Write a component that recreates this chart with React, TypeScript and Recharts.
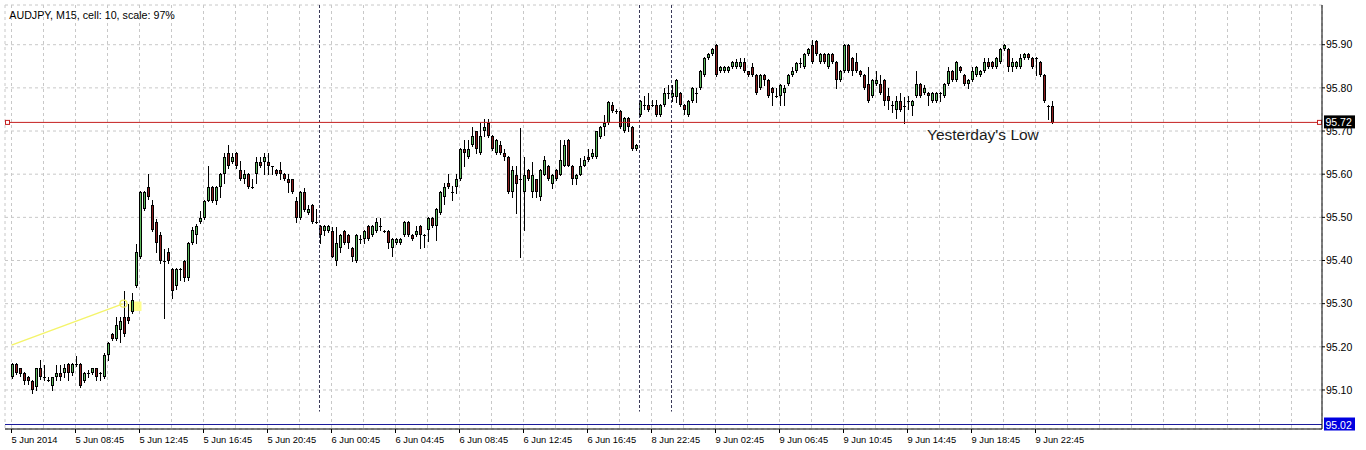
import React from 'react';
import {
  ComposedChart,
  Bar,
  XAxis,
  YAxis,
  CartesianGrid,
  ReferenceLine,
  ReferenceDot,
  ReferenceArea,
} from 'recharts';

const FONT = '"Liberation Sans", Arial, sans-serif';

// AUDJPY M15 candles, one per 15 minutes
const opens = [
  95.130, 95.160, 95.150, 95.139, 95.130, 95.120, 95.108, 95.150, 95.130, 95.124,
  95.110, 95.130, 95.139, 95.139, 95.160, 95.139, 95.160, 95.160, 95.120, 95.139,
  95.139, 95.150, 95.140, 95.130, 95.181, 95.229, 95.219, 95.239, 95.269, 95.269,
  95.280, 95.340, 95.409, 95.519, 95.570, 95.529, 95.489, 95.459, 95.400, 95.419,
  95.380, 95.340, 95.380, 95.399, 95.359, 95.440, 95.459, 95.489, 95.498, 95.539,
  95.570, 95.539, 95.570, 95.600, 95.649, 95.629, 95.649, 95.610, 95.588, 95.600,
  95.570, 95.600, 95.629, 95.629, 95.629, 95.619, 95.610, 95.610, 95.600, 95.588,
  95.588, 95.539, 95.498, 95.558, 95.510, 95.529, 95.489, 95.480, 95.469, 95.469,
  95.469, 95.399, 95.430, 95.469, 95.459, 95.430, 95.399, 95.449, 95.449, 95.480,
  95.459, 95.469, 95.480, 95.469, 95.469, 95.430, 95.440, 95.440, 95.459, 95.489,
  95.459, 95.459, 95.480, 95.459, 95.471, 95.498, 95.479, 95.510, 95.548, 95.579,
  95.558, 95.570, 95.588, 95.658, 95.640, 95.668, 95.699, 95.649, 95.699, 95.718,
  95.689, 95.649, 95.668, 95.649, 95.640, 95.558, 95.599, 95.588, 95.558, 95.610,
  95.558, 95.588, 95.548, 95.599, 95.620, 95.578, 95.610, 95.599, 95.620, 95.680,
  95.620, 95.588, 95.599, 95.620, 95.639, 95.640, 95.640, 95.687, 95.709, 95.718,
  95.761, 95.747, 95.747, 95.699, 95.730, 95.709, 95.658, 95.737, 95.761, 95.761,
  95.761, 95.761, 95.737, 95.761, 95.788, 95.778, 95.778, 95.788, 95.761, 95.737,
  95.770, 95.788, 95.800, 95.829, 95.869, 95.879, 95.900, 95.838, 95.838, 95.838,
  95.848, 95.848, 95.848, 95.860, 95.838, 95.848, 95.829, 95.800, 95.829, 95.819,
  95.800, 95.780, 95.780, 95.788, 95.809, 95.829, 95.839, 95.857, 95.848, 95.879,
  95.900, 95.909, 95.860, 95.879, 95.848, 95.879, 95.860, 95.819, 95.839, 95.900,
  95.869, 95.860, 95.839, 95.829, 95.809, 95.780, 95.809, 95.809, 95.819, 95.780,
  95.761, 95.749, 95.770, 95.759, 95.769, 95.759, 95.780, 95.809, 95.788, 95.788,
  95.770, 95.770, 95.788, 95.780, 95.809, 95.839, 95.819, 95.848, 95.829, 95.809,
  95.819, 95.829, 95.829, 95.838, 95.860, 95.860, 95.848, 95.860, 95.890, 95.890,
  95.848, 95.848, 95.848, 95.869, 95.879, 95.869, 95.869, 95.860, 95.829, 95.759,
  95.759,
];

const highs = [
  95.162, 95.162, 95.152, 95.141, 95.132, 95.122, 95.152, 95.170, 95.158, 95.131,
  95.131, 95.158, 95.158, 95.160, 95.162, 95.162, 95.179, 95.162, 95.141, 95.147,
  95.152, 95.152, 95.141, 95.185, 95.212, 95.232, 95.270, 95.270, 95.330, 95.300,
  95.324, 95.439, 95.560, 95.560, 95.600, 95.540, 95.497, 95.467, 95.427, 95.428,
  95.382, 95.382, 95.383, 95.401, 95.442, 95.477, 95.485, 95.515, 95.541, 95.618,
  95.572, 95.573, 95.602, 95.648, 95.668, 95.648, 95.651, 95.630, 95.610, 95.602,
  95.588, 95.639, 95.639, 95.648, 95.648, 95.620, 95.612, 95.629, 95.602, 95.600,
  95.590, 95.548, 95.560, 95.568, 95.529, 95.531, 95.519, 95.482, 95.482, 95.482,
  95.478, 95.478, 95.461, 95.471, 95.461, 95.432, 95.461, 95.459, 95.471, 95.482,
  95.482, 95.498, 95.498, 95.471, 95.471, 95.451, 95.451, 95.451, 95.491, 95.491,
  95.461, 95.480, 95.482, 95.461, 95.500, 95.500, 95.521, 95.560, 95.579, 95.600,
  95.572, 95.600, 95.660, 95.680, 95.680, 95.709, 95.701, 95.718, 95.727, 95.727,
  95.691, 95.682, 95.676, 95.658, 95.642, 95.618, 95.618, 95.707, 95.640, 95.612,
  95.628, 95.590, 95.612, 95.641, 95.622, 95.601, 95.612, 95.680, 95.680, 95.682,
  95.622, 95.601, 95.638, 95.641, 95.658, 95.658, 95.701, 95.711, 95.738, 95.770,
  95.768, 95.752, 95.749, 95.732, 95.732, 95.711, 95.670, 95.772, 95.780, 95.788,
  95.772, 95.772, 95.763, 95.800, 95.807, 95.807, 95.821, 95.790, 95.763, 95.772,
  95.802, 95.800, 95.841, 95.872, 95.881, 95.892, 95.902, 95.850, 95.850, 95.850,
  95.862, 95.866, 95.870, 95.870, 95.840, 95.858, 95.831, 95.831, 95.831, 95.821,
  95.802, 95.800, 95.809, 95.807, 95.831, 95.848, 95.859, 95.869, 95.881, 95.892,
  95.910, 95.911, 95.881, 95.881, 95.881, 95.881, 95.862, 95.841, 95.902, 95.902,
  95.871, 95.880, 95.841, 95.831, 95.848, 95.821, 95.838, 95.829, 95.821, 95.800,
  95.769, 95.780, 95.788, 95.779, 95.780, 95.772, 95.838, 95.811, 95.807, 95.790,
  95.790, 95.790, 95.790, 95.811, 95.848, 95.841, 95.862, 95.850, 95.831, 95.821,
  95.848, 95.850, 95.841, 95.869, 95.869, 95.862, 95.871, 95.892, 95.902, 95.892,
  95.869, 95.862, 95.879, 95.881, 95.881, 95.871, 95.871, 95.862, 95.831, 95.761,
  95.769,
];

const lows = [
  95.128, 95.136, 95.133, 95.115, 95.115, 95.093, 95.099, 95.125, 95.122, 95.120,
  95.100, 95.122, 95.122, 95.130, 95.122, 95.135, 95.155, 95.108, 95.118, 95.130,
  95.137, 95.122, 95.122, 95.128, 95.170, 95.215, 95.215, 95.212, 95.225, 95.255,
  95.278, 95.338, 95.405, 95.517, 95.542, 95.468, 95.420, 95.395, 95.267, 95.395,
  95.313, 95.335, 95.355, 95.352, 95.355, 95.438, 95.440, 95.487, 95.496, 95.537,
  95.535, 95.530, 95.548, 95.580, 95.615, 95.627, 95.615, 95.586, 95.580, 95.568,
  95.568, 95.580, 95.616, 95.600, 95.600, 95.600, 95.598, 95.588, 95.586, 95.558,
  95.556, 95.490, 95.496, 95.515, 95.508, 95.487, 95.487, 95.440, 95.460, 95.467,
  95.407, 95.390, 95.420, 95.438, 95.430, 95.400, 95.397, 95.440, 95.440, 95.447,
  95.457, 95.467, 95.471, 95.467, 95.430, 95.410, 95.438, 95.438, 95.457, 95.457,
  95.447, 95.457, 95.430, 95.432, 95.445, 95.477, 95.448, 95.508, 95.530, 95.568,
  95.540, 95.556, 95.586, 95.620, 95.638, 95.666, 95.648, 95.647, 95.689, 95.687,
  95.656, 95.647, 95.647, 95.632, 95.556, 95.548, 95.510, 95.409, 95.471, 95.586,
  95.548, 95.548, 95.540, 95.597, 95.586, 95.568, 95.586, 95.597, 95.618, 95.618,
  95.578, 95.578, 95.597, 95.618, 95.630, 95.638, 95.638, 95.685, 95.690, 95.716,
  95.745, 95.742, 95.707, 95.697, 95.699, 95.656, 95.656, 95.735, 95.750, 95.747,
  95.759, 95.735, 95.735, 95.759, 95.776, 95.770, 95.768, 95.759, 95.739, 95.735,
  95.768, 95.768, 95.798, 95.827, 95.867, 95.877, 95.827, 95.836, 95.836, 95.836,
  95.846, 95.846, 95.846, 95.836, 95.827, 95.827, 95.786, 95.798, 95.807, 95.778,
  95.761, 95.778, 95.761, 95.761, 95.807, 95.827, 95.837, 95.848, 95.846, 95.877,
  95.858, 95.877, 95.858, 95.858, 95.846, 95.858, 95.800, 95.817, 95.837, 95.837,
  95.830, 95.837, 95.827, 95.798, 95.767, 95.778, 95.807, 95.786, 95.761, 95.750,
  95.745, 95.730, 95.747, 95.718, 95.750, 95.737, 95.778, 95.778, 95.786, 95.761,
  95.768, 95.768, 95.770, 95.778, 95.807, 95.817, 95.817, 95.836, 95.807, 95.800,
  95.817, 95.827, 95.827, 95.836, 95.846, 95.846, 95.846, 95.858, 95.888, 95.840,
  95.840, 95.846, 95.846, 95.867, 95.867, 95.846, 95.829, 95.827, 95.767, 95.728,
  95.718,
];

const closes = [
  95.160, 95.139, 95.137, 95.120, 95.120, 95.100, 95.150, 95.130, 95.129, 95.123,
  95.130, 95.139, 95.130, 95.150, 95.139, 95.160, 95.158, 95.110, 95.139, 95.140,
  95.150, 95.130, 95.139, 95.181, 95.210, 95.219, 95.250, 95.260, 95.229, 95.259,
  95.309, 95.420, 95.558, 95.558, 95.548, 95.471, 95.440, 95.399, 95.399, 95.399,
  95.330, 95.380, 95.381, 95.359, 95.440, 95.471, 95.479, 95.498, 95.539, 95.570,
  95.539, 95.571, 95.600, 95.639, 95.618, 95.639, 95.618, 95.588, 95.600, 95.570,
  95.570, 95.629, 95.618, 95.639, 95.618, 95.619, 95.600, 95.600, 95.588, 95.579,
  95.558, 95.498, 95.558, 95.517, 95.519, 95.489, 95.489, 95.459, 95.480, 95.480,
  95.409, 95.440, 95.459, 95.440, 95.440, 95.409, 95.459, 95.449, 95.469, 95.449,
  95.480, 95.489, 95.480, 95.469, 95.440, 95.449, 95.449, 95.449, 95.489, 95.459,
  95.449, 95.469, 95.459, 95.459, 95.498, 95.479, 95.519, 95.558, 95.570, 95.570,
  95.558, 95.588, 95.658, 95.649, 95.658, 95.689, 95.658, 95.689, 95.709, 95.689,
  95.658, 95.680, 95.649, 95.640, 95.558, 95.610, 95.578, 95.588, 95.599, 95.588,
  95.599, 95.558, 95.610, 95.632, 95.588, 95.599, 95.588, 95.632, 95.668, 95.620,
  95.588, 95.599, 95.620, 95.632, 95.632, 95.649, 95.699, 95.709, 95.718, 95.768,
  95.747, 95.747, 95.709, 95.730, 95.709, 95.658, 95.668, 95.770, 95.761, 95.749,
  95.760, 95.737, 95.761, 95.788, 95.788, 95.788, 95.819, 95.761, 95.749, 95.770,
  95.800, 95.788, 95.839, 95.870, 95.879, 95.890, 95.829, 95.848, 95.848, 95.848,
  95.860, 95.860, 95.860, 95.838, 95.829, 95.829, 95.788, 95.829, 95.819, 95.780,
  95.788, 95.780, 95.807, 95.800, 95.829, 95.839, 95.857, 95.857, 95.879, 95.890,
  95.860, 95.879, 95.879, 95.860, 95.879, 95.860, 95.819, 95.839, 95.900, 95.839,
  95.839, 95.839, 95.829, 95.800, 95.769, 95.819, 95.819, 95.788, 95.769, 95.769,
  95.761, 95.769, 95.749, 95.759, 95.768, 95.770, 95.809, 95.780, 95.800, 95.780,
  95.788, 95.788, 95.788, 95.809, 95.839, 95.819, 95.860, 95.838, 95.809, 95.819,
  95.839, 95.848, 95.839, 95.860, 95.848, 95.848, 95.869, 95.890, 95.900, 95.848,
  95.860, 95.860, 95.869, 95.879, 95.869, 95.848, 95.869, 95.829, 95.769, 95.759,
  95.718,
];

// one label every 16 bars, starting at bar 0
const timeLabels = [
  '5 Jun 2014', '5 Jun 08:45', '5 Jun 12:45', '5 Jun 16:45', '5 Jun 20:45',
  '6 Jun 00:45', '6 Jun 04:45', '6 Jun 08:45', '6 Jun 12:45', '6 Jun 16:45',
  '8 Jun 22:45', '9 Jun 02:45', '9 Jun 06:45', '9 Jun 10:45', '9 Jun 14:45',
  '9 Jun 18:45', '9 Jun 22:45',
];
const priceTicks = [95.1, 95.2, 95.3, 95.4, 95.5, 95.6, 95.7, 95.8, 95.9];
const daySeparators = [77, 157, 165];
const yesterdayLow = 95.72;
const bidPrice = 95.72;
const blueLevel = 95.02;
const trendStart = { bar: 0, price: 95.204 };
const trendEnd = { bar: 28, price: 95.3 };

const TOTAL_SLOTS = 328; // chart keeps empty space to the right
const PRICE_MIN = 95.0096;
const PRICE_MAX = 95.992;

const rows = Array.from({ length: TOTAL_SLOTS }, (_, i) =>
  i < closes.length
    ? { i, range: [lows[i], highs[i]], open: opens[i], high: highs[i], low: lows[i], close: closes[i] }
    : { i }
);
const gridTicks = rows.filter((r) => r.i % 8 === 0).map((r) => r.i);

const BULL = '#5cb85c';
const BEAR = '#8b1e1e';

function Candle(props: any) {
  const { x, y, width, height, payload } = props;
  if (!payload || payload.open == null) return null;
  const { open, high, low, close } = payload;
  const top = Math.min(y, y + height);
  const bottom = Math.max(y, y + height);
  const span = high - low;
  const yOf = (v: number) => (span > 0 ? top + ((high - v) / span) * (bottom - top) : top);
  const cx = Math.floor(x + width / 2 + 0.25) + 0.5;
  const bodyTop = Math.round(yOf(Math.max(open, close)));
  const bodyBottom = Math.round(yOf(Math.min(open, close)));
  const up = close > open;
  return (
    <g>
      <line x1={cx} x2={cx} y1={Math.round(top)} y2={Math.round(bottom) + 1} stroke="#000" strokeWidth={1} />
      {bodyBottom - bodyTop < 2 ? (
        <line x1={cx - 1.5} x2={cx + 1.5} y1={bodyTop + 0.5} y2={bodyTop + 0.5} stroke="#000" strokeWidth={1} />
      ) : (
        <rect
          x={cx - 1}
          y={bodyTop + 0.5}
          width={2}
          height={bodyBottom - bodyTop - 1}
          fill={up ? BULL : BEAR}
          stroke="#000"
          strokeWidth={1}
        />
      )}
    </g>
  );
}

function TimeTick(props: any) {
  const { x, y, payload } = props;
  const v = payload.value;
  if (v % 16 !== 0) return null;
  const label = timeLabels[v / 16];
  if (!label) return null;
  const tx = Math.floor(x) + 0.5;
  return (
    <g>
      <line x1={tx} x2={tx} y1={y} y2={y + 4} stroke="#000" />
      <text x={tx} y={y + 14} fontSize={9.3} fontFamily={FONT} fill="#000" textAnchor="start">
        {label}
      </text>
    </g>
  );
}

function priceBadge(vb: any, text: string, bg: string) {
  const right = vb.x + vb.width;
  return (
    <g>
      <rect x={right + 2} y={vb.y - 7} width={31} height={13} fill={bg} />
      <text x={right + 3.5} y={vb.y + 4} fontSize={10.5} fontFamily={FONT} fill="#fff">
        {text}
      </text>
    </g>
  );
}

export default function App() {
  return (
    <div style={{ position: 'absolute', left: 0, top: 0, width: 1366, height: 450, background: '#fff' }}>
      <ComposedChart width={1366} height={450} data={rows} margin={{ top: 5, right: 0, left: 5, bottom: 0 }}>
        <CartesianGrid stroke="#c8c8c8" strokeDasharray="3 3" />
        <XAxis
          dataKey="i"
          type="category"
          height={21}
          ticks={gridTicks}
          interval={0}
          padding={{ left: 4.5, right: 0.5 }}
          tickSize={0}
          tickMargin={0}
          tickLine={false}
          axisLine={{ stroke: '#000' }}
          tick={<TimeTick />}
        />
        <XAxis
          xAxisId="t"
          dataKey="i"
          type="category"
          orientation="top"
          height={0}
          tick={false}
          tickLine={false}
          axisLine={{ stroke: '#000' }}
        />
        <YAxis
          orientation="right"
          width={44}
          type="number"
          domain={[PRICE_MIN, PRICE_MAX]}
          allowDataOverflow
          ticks={priceTicks}
          tickFormatter={(v: number) => v.toFixed(2)}
          tickSize={3}
          tickMargin={1}
          tickLine={{ stroke: '#000' }}
          axisLine={{ stroke: '#000' }}
          tick={{ fontSize: 10.5, fill: '#000', fontFamily: FONT }}
        />
        <YAxis
          yAxisId="l"
          orientation="left"
          width={0}
          domain={[0, 1]}
          tick={false}
          tickLine={false}
          axisLine={{ stroke: '#000' }}
        />
        {daySeparators.map((s) => (
          <ReferenceLine
            key={s}
            segment={[
              { x: s, y: PRICE_MAX },
              { x: s, y: 95.05 },
            ]}
            stroke="#3a3a58"
            strokeDasharray="3 2"
            ifOverflow="visible"
          />
        ))}
        <ReferenceLine
          y={blueLevel}
          stroke="#1c1c9c"
          strokeWidth={1}
          label={(p: any) => priceBadge(p.viewBox, blueLevel.toFixed(2), '#0000e0')}
        />
        <ReferenceLine
          y={yesterdayLow}
          stroke="#c42020"
          strokeWidth={1}
          label={(p: any) => {
            const vb = p.viewBox;
            return (
              <g>
                <rect x={vb.x + 0.5} y={vb.y - 2} width={4} height={4} fill="#fff" stroke="#c42020" />
                <rect x={vb.x + vb.width - 4.5} y={vb.y - 2} width={4} height={4} fill="#fff" stroke="#c42020" />
                {priceBadge(vb, bidPrice.toFixed(2), '#000')}
              </g>
            );
          }}
        />
        <ReferenceLine
          segment={[
            { x: trendStart.bar, y: trendStart.price },
            { x: trendEnd.bar, y: trendEnd.price },
          ]}
          stroke="#f4f46a"
          strokeWidth={1.5}
          ifOverflow="visible"
        />
        <ReferenceArea x1={30} x2={32} y1={95.283} y2={95.305} fill="#ffff7a" fillOpacity={0.85} stroke="none" />
        <ReferenceDot x={trendEnd.bar} y={trendEnd.price} r={3.5} fill="none" stroke="#f0f060" strokeWidth={1.2} />
        <Bar dataKey="range" barSize={3} isAnimationActive={false} shape={(p: any) => <Candle {...p} />} />
        <ReferenceDot
          x={229}
          y={yesterdayLow}
          r={1}
          fill="none"
          stroke="none"
          label={(p: any) => {
            const vb = p.viewBox;
            const cx = vb.x + vb.width / 2;
            const cy = vb.y + vb.height / 2;
            return (
              <text x={cx - 0.5} y={cy + 17.6} fontSize={15.5} fontFamily={FONT} fill="#1a1a1a">
                Yesterday's Low
              </text>
            );
          }}
        />
      </ComposedChart>
      <svg
        width={1366}
        height={450}
        style={{ position: 'absolute', left: 0, top: 0, pointerEvents: 'none' }}
      >
        <text x={9.3} y={19.3} fontSize={10.7} fontFamily={FONT} fill="#000">
          AUDJPY, M15, cell: 10, scale: 97%
        </text>
      </svg>
    </div>
  );
}
